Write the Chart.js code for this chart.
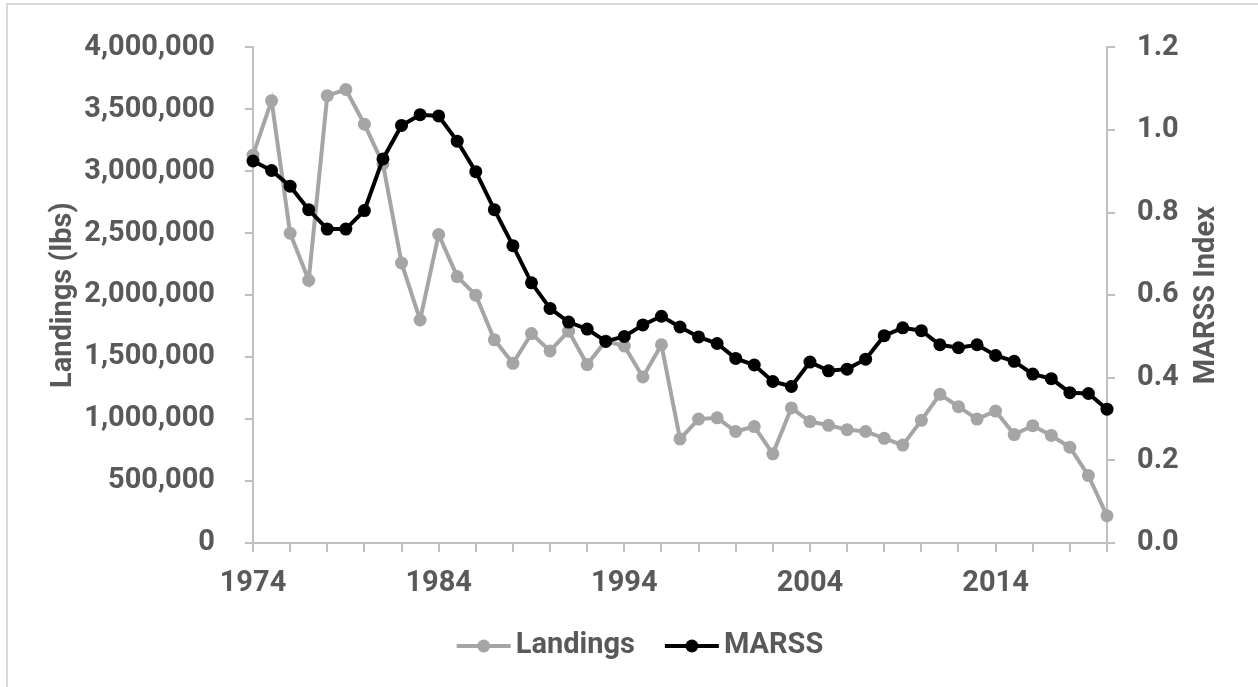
<!DOCTYPE html>
<html>
<head>
<meta charset="utf-8">
<script src="https://cdn.jsdelivr.net/npm/chart.js@4/dist/chart.umd.min.js"></script>
<style>
  html, body { margin: 0; padding: 0; background: #fff; }
  #frame {
    position: absolute; left: 6px; top: 3px; width: 1300px; height: 720px;
    border-left: 2px solid #D9D9D9; border-top: 2px solid #D9D9D9;
  }
  #wrap { position: absolute; left: 0; top: 0; width: 1258px; height: 687px; }
</style>
</head>
<body>
<div id="frame"></div>
<div id="wrap"><canvas id="landingsChart" width="1258" height="687"></canvas></div>
<script>
// Data
const years = [1974, 1975, 1976, 1977, 1978, 1979, 1980, 1981, 1982, 1983,
  1984, 1985, 1986, 1987, 1988, 1989, 1990, 1991, 1992, 1993,
  1994, 1995, 1996, 1997, 1998, 1999, 2000, 2001, 2002, 2003,
  2004, 2005, 2006, 2007, 2008, 2009, 2010, 2011, 2012, 2013,
  2014, 2015, 2016, 2017, 2018, 2019, 2020];

const landings = [3130000, 3570000, 2500000, 2120000, 3610000, 3660000, 3380000, 3060000, 2260000, 1800000,
  2490000, 2150000, 2000000, 1640000, 1450000, 1690000, 1550000, 1710000, 1440000, 1630000,
  1590000, 1340000, 1600000, 840000, 1000000, 1010000, 900000, 940000, 720000, 1090000,
  980000, 950000, 915000, 900000, 845000, 790000, 990000, 1200000, 1100000, 1000000,
  1065000, 875000, 947000, 868000, 773000, 544000, 220000];

const marss = [0.925, 0.902, 0.864, 0.807, 0.760, 0.760, 0.805, 0.930, 1.011, 1.037,
  1.034, 0.973, 0.899, 0.807, 0.720, 0.630, 0.568, 0.535, 0.518, 0.488,
  0.500, 0.528, 0.549, 0.523, 0.499, 0.483, 0.447, 0.431, 0.391, 0.379,
  0.438, 0.417, 0.421, 0.445, 0.502, 0.521, 0.514, 0.480, 0.473, 0.480,
  0.454, 0.440, 0.409, 0.398, 0.364, 0.362, 0.324];

const xTickLabels = ['1974', '1984', '1994', '2004', '2014'];

const textColor = '#595959';
const axisColor = '#BFBFBF';
const fontFamily = 'Roboto, "Liberation Sans", sans-serif';
const fontSize = 29;

// Judul sumbu kanan (dibaca dari bawah ke atas)
const rightTitlePlugin = {
  id: 'rightTitle',
  afterDraw(chart) {
    const ctx = chart.ctx;
    const area = chart.chartArea;
    ctx.save();
    ctx.translate(1207, (area.top + area.bottom) / 2);
    ctx.rotate(-Math.PI / 2);
    ctx.font = `bold ${fontSize}px ${fontFamily}`;
    ctx.fillStyle = textColor;
    ctx.textAlign = 'center';
    ctx.textBaseline = 'middle';
    ctx.fillText('MARSS Index', 0, 0);
    ctx.restore();
  }
};

// Legend di bawah: garis + titik
const legendPlugin = {
  id: 'lineLegend',
  afterDraw(chart) {
    const ctx = chart.ctx;
    const markW = 54, gap = 5, itemGap = 30, y = 646;
    ctx.save();
    ctx.font = `bold ${fontSize}px ${fontFamily}`;
    const items = chart.data.datasets.map(ds => ({
      label: ds.label,
      color: ds.borderColor,
      radius: ds.pointRadius,
      width: markW + gap + ctx.measureText(ds.label).width
    }));
    const total = items.reduce((a, it) => a + it.width, 0) + itemGap * (items.length - 1);
    let x = 640 - total / 2;
    items.forEach(it => {
      ctx.strokeStyle = it.color;
      ctx.lineWidth = 4;
      ctx.beginPath();
      ctx.moveTo(x, y);
      ctx.lineTo(x + markW, y);
      ctx.stroke();
      ctx.fillStyle = it.color;
      ctx.beginPath();
      ctx.arc(x + markW / 2, y, it.radius, 0, Math.PI * 2);
      ctx.fill();
      ctx.fillStyle = textColor;
      ctx.textAlign = 'left';
      ctx.textBaseline = 'middle';
      ctx.fillText(it.label, x + markW + gap, y);
      x += it.width + itemGap;
    });
    ctx.restore();
  }
};

const ctx = document.getElementById('landingsChart').getContext('2d');
const chart = new Chart(ctx, {
  type: 'line',
  data: {
    datasets: [
      {
        label: 'Landings',
        data: years.map((yr, i) => ({ x: yr, y: landings[i] })),
        yAxisID: 'y',
        borderColor: '#A5A5A5',
        backgroundColor: '#A5A5A5',
        borderWidth: 4,
        pointRadius: 6.5,
        pointBorderWidth: 0,
        pointBackgroundColor: '#A5A5A5',
        tension: 0,
        clip: false,
        order: 1
      },
      {
        label: 'MARSS',
        data: years.map((yr, i) => ({ x: yr, y: marss[i] })),
        yAxisID: 'y1',
        borderColor: '#000000',
        backgroundColor: '#000000',
        borderWidth: 4,
        pointRadius: 6.5,
        pointBorderWidth: 0,
        pointBackgroundColor: '#000000',
        tension: 0,
        clip: false,
        order: 0
      }
    ]
  },
  options: {
    responsive: false,
    animation: false,
    layout: { padding: { top: 37, bottom: 84, left: 0, right: 0 } },
    plugins: {
      legend: { display: false },
      tooltip: { enabled: false }
    },
    scales: {
      x: {
        type: 'linear',
        min: years[0],
        max: years[years.length - 1],
        offset: false,
        afterFit(scale) { scale.height = 60; },
        afterBuildTicks(scale) {
          scale.ticks = [];
          for (let v = years[0]; v <= years[years.length - 1]; v += 2) scale.ticks.push({ value: v });
        },
        ticks: {
          autoSkip: false,
          maxRotation: 0,
          padding: 14,
          color: textColor,
          font: { family: fontFamily, size: fontSize, weight: 'bold' },
          callback: v => xTickLabels.includes(String(v)) ? String(v) : ''
        },
        grid: { drawOnChartArea: false, color: axisColor, lineWidth: 2, tickLength: 9 },
        border: { color: axisColor, width: 2 }
      },
      y: {
        position: 'left',
        min: 0,
        max: 4000000,
        afterFit(scale) { scale.width = 253; },
        ticks: {
          stepSize: 500000,
          padding: 30,
          color: textColor,
          font: { family: fontFamily, size: fontSize, weight: 'bold' },
          callback: v => v.toLocaleString('en-US')
        },
        title: {
          display: true,
          text: 'Landings (lbs)',
          color: textColor,
          font: { family: fontFamily, size: fontSize, weight: 'bold' },
          padding: { top: 46, bottom: 0 }
        },
        grid: { drawOnChartArea: false, color: axisColor, lineWidth: 2, tickLength: 8 },
        border: { color: axisColor, width: 2 }
      },
      y1: {
        position: 'right',
        min: 0,
        max: 1.2,
        afterFit(scale) { scale.width = 151; },
        ticks: {
          stepSize: 0.2,
          padding: 22,
          color: textColor,
          font: { family: fontFamily, size: fontSize, weight: 'bold' },
          callback: v => v.toFixed(1)
        },
        grid: { drawOnChartArea: false, color: axisColor, lineWidth: 2, tickLength: 8 },
        border: { color: axisColor, width: 2 }
      }
    }
  },
  plugins: [rightTitlePlugin, legendPlugin]
});
</script>
</body>
</html>
